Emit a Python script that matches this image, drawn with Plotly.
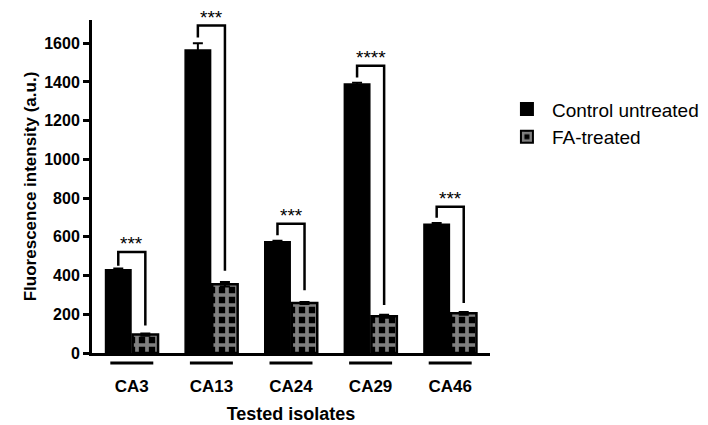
import plotly.graph_objects as go

isolates = ["CA3", "CA13", "CA24", "CA29", "CA46"]
control = [430, 1565, 575, 1390, 665]
control_err = [6, 35, 5, 6, 6]
treated = [95, 355, 258, 190, 205]
treated_err = [6, 12, 5, 8, 7]
stars = ["***", "***", "***", "****", "***"]
bracket_top = [522, 1691, 668, 1484, 755]
left_leg = [451, 1630, 608, 1423, 698]
right_leg = [142, 425, 324, 248, 258]

xs = list(range(len(isolates)))
font = "Arial, Liberation Sans, sans-serif"

fig = go.Figure()
fig.add_trace(go.Bar(
    x=xs, y=control, name="Control untreated",
    marker=dict(color="black", line=dict(color="black", width=1.5)),
    error_y=dict(type="data", array=control_err, color="black", thickness=2, width=5),
))
fig.add_trace(go.Bar(
    x=xs, y=treated, name="FA-treated",
    marker=dict(color="black", line=dict(color="black", width=2.5),
                pattern=dict(shape="+", fgcolor="white", bgcolor="black", size=10, solidity=0.6)),
    error_y=dict(type="data", array=treated_err, color="black", thickness=2, width=5),
))

off = 0.17
for i in xs:
    fig.add_trace(go.Scatter(
        x=[i - off, i - off, i + off, i + off],
        y=[left_leg[i], bracket_top[i], bracket_top[i], right_leg[i]],
        mode="lines", line=dict(color="black", width=2.5),
        showlegend=False, hoverinfo="skip",
    ))
    fig.add_annotation(x=i, y=bracket_top[i], text=stars[i], showarrow=False,
                       yanchor="bottom", yshift=-4, font=dict(size=19, color="black", family=font))
    fig.add_shape(type="line", xref="x", yref="paper", x0=i - 0.27, x1=i + 0.27,
                  y0=-0.03, y1=-0.03, line=dict(color="black", width=3))

fig.update_layout(
    width=708, height=425,
    margin=dict(l=84, r=208, t=12, b=74),
    plot_bgcolor="white", paper_bgcolor="white",
    barmode="group", bargap=0.32, bargroupgap=0.06,
    font=dict(family=font, color="black"),
    legend=dict(x=1.03, y=0.69, yanchor="middle", font=dict(size=19),
                itemsizing="constant", traceorder="normal", itemwidth=40),
    xaxis=dict(
        tickmode="array", tickvals=xs, ticktext=[f"<b>{s}</b>" for s in isolates],
        range=[-0.5, 4.5], showline=True, linecolor="black", linewidth=3,
        ticks="", tickfont=dict(size=17), ticklabelstandoff=16,
        title=dict(text="<b>Tested isolates</b>", font=dict(size=18), standoff=12),
    ),
    yaxis=dict(
        range=[0, 1720], tickvals=list(range(0, 1601, 200)),
        ticktext=[f"<b>{v}</b>" for v in range(0, 1601, 200)],
        showline=True, linecolor="black", linewidth=3, ticks="outside",
        ticklen=6, tickwidth=3, tickcolor="black", showgrid=False, zeroline=False,
        tickfont=dict(size=16),
        title=dict(text="<b>Fluorescence intensity (a.u.)</b>", font=dict(size=17), standoff=4),
    ),
)

fig.write_html("out.html")
